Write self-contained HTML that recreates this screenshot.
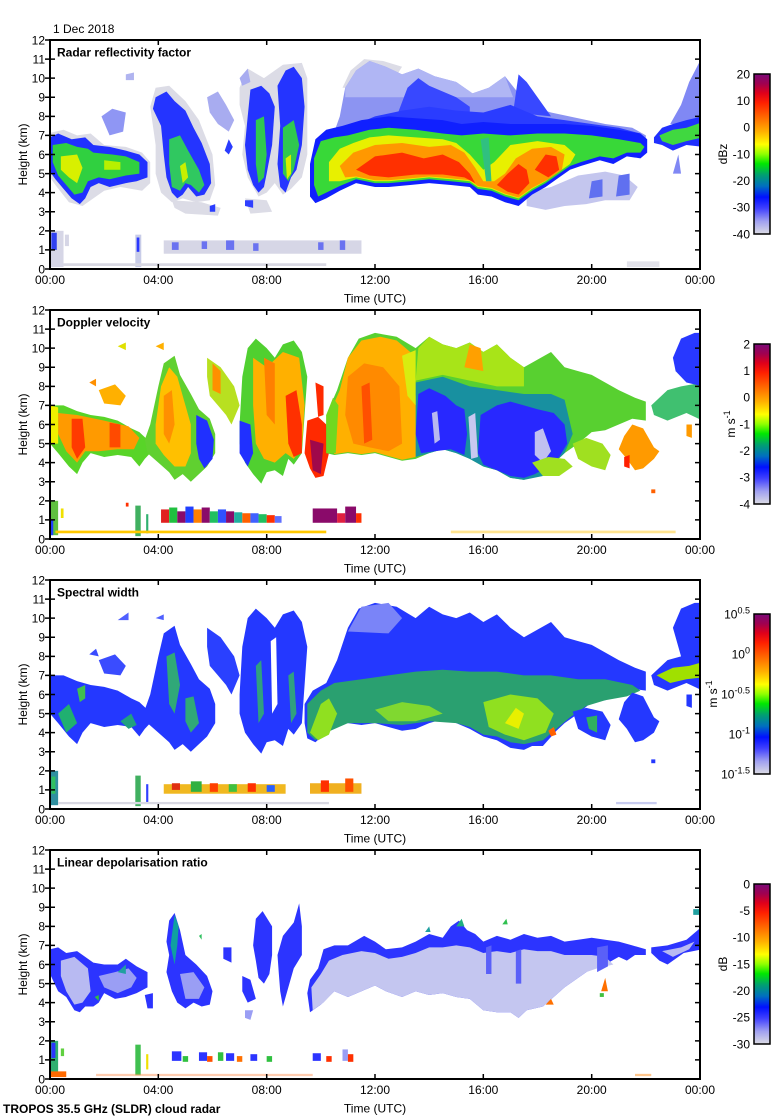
<!DOCTYPE html>
<html><head><meta charset="utf-8"><style>html,body{margin:0;padding:0;background:#fff}svg{display:block}</style></head>
<body>
<svg width="780" height="1120" viewBox="0 0 780 1120" xmlns="http://www.w3.org/2000/svg" font-family="'Liberation Sans', Arial, sans-serif" font-size="12">
<defs>
<clipPath id="c" clipPathUnits="userSpaceOnUse"><rect x="0" y="0" width="24" height="12"/></clipPath>
<linearGradient id="cm" x1="0" y1="0" x2="0" y2="1">
<stop offset="0" stop-color="#7a0a78"/><stop offset="0.06" stop-color="#a00050"/><stop offset="0.12" stop-color="#e0001a"/><stop offset="0.18" stop-color="#ff2000"/><stop offset="0.28" stop-color="#ff7000"/><stop offset="0.36" stop-color="#ffb000"/><stop offset="0.44" stop-color="#ffff00"/><stop offset="0.50" stop-color="#90ff00"/><stop offset="0.56" stop-color="#00e800"/><stop offset="0.63" stop-color="#00a070"/><stop offset="0.70" stop-color="#0070c0"/><stop offset="0.77" stop-color="#0010ff"/><stop offset="0.84" stop-color="#4040ff"/><stop offset="0.92" stop-color="#a0a0f0"/><stop offset="1" stop-color="#dcdce4"/>
</linearGradient>
<g id="axes">
<rect x="50" y="0" width="650" height="229" fill="none" stroke="#000" stroke-width="2"/>
<path stroke="#000" stroke-width="1.5" fill="none" d="M45 209.92H55M45 190.83H55M45 171.75H55M45 152.67H55M45 133.58H55M45 114.5H55M45 95.42H55M45 76.33H55M45 57.25H55M45 38.17H55M45 19.08H55M45 0H50M45 229H50
M695 209.92H700M695 190.83H700M695 171.75H700M695 152.67H700M695 133.58H700M695 114.5H700M695 95.42H700M695 76.33H700M695 57.25H700M695 38.17H700M695 19.08H700
M158.3 0V5M266.7 0V5M375 0V5M483.3 0V5M591.7 0V5M158.3 229V224M266.7 229V224M375 229V224M483.3 229V224M591.7 229V224"/>
<g text-anchor="end">
<text x="45" y="233.3">0</text><text x="45" y="214.2">1</text><text x="45" y="195.1">2</text><text x="45" y="176">3</text><text x="45" y="157">4</text><text x="45" y="137.9">5</text><text x="45" y="118.8">6</text><text x="45" y="99.7">7</text><text x="45" y="80.6">8</text><text x="45" y="61.5">9</text><text x="45" y="42.5">10</text><text x="45" y="23.4">11</text><text x="45" y="4.3">12</text>
</g>
<g text-anchor="middle">
<text x="50" y="244">00:00</text><text x="158.3" y="244">04:00</text><text x="266.7" y="244">08:00</text><text x="375" y="244">12:00</text><text x="483.3" y="244">16:00</text><text x="591.7" y="244">20:00</text><text x="700" y="244">00:00</text>
<text x="375" y="262.5">Time (UTC)</text>
<text transform="translate(27,114.5) rotate(-90)">Height (km)</text>
</g>
<rect x="754" y="34" width="16" height="160" fill="url(#cm)" stroke="#000" stroke-width="1.5"/>
</g>
</defs>

<text x="53" y="33">1 Dec 2018</text>

<!-- ================= PANEL 1 ================= -->
<g transform="translate(0,40)">
<g transform="translate(50 229) scale(27.0833 -19.0833)"><g clip-path="url(#c)">
<polygon fill="#dcdce6" points="3.7,8.5 3.9,9.5 4.4,9.6 5.0,8.8 5.5,7.8 6.0,6.0 6.1,4.4 5.9,3.6 5.4,3.5 4.9,3.7 4.5,3.5 4.1,4.0 3.9,5.0 3.9,6.5"/>
<polygon fill="#dcdce6" points="4.5,3.6 5.6,3.5 6.3,3.2 6.2,2.8 5.0,2.9 4.6,3.2"/>
<polygon fill="#dcdce6" points="7.0,9.5 7.3,10.5 7.9,10.0 8.6,10.7 9.3,10.8 9.5,10.0 9.5,8.0 9.5,6.0 9.3,4.8 8.9,4.2 8.6,3.9 8.3,4.5 8.0,4.0 7.7,3.8 7.3,4.8 7.1,6.0 7.2,7.5 7.0,8.6"/>
<polygon fill="#dcdce6" points="7.2,3.7 8.0,3.6 8.2,3.0 7.4,2.9"/>
<polygon fill="#dcdce6" points="-0.1,7.1 0.5,7.3 1.0,7.0 1.5,7.1 2.0,6.5 2.8,6.4 3.4,6.1 3.7,5.6 3.7,4.5 3.4,4.1 2.6,4.3 2.0,4.1 1.6,3.7 1.2,3.3 0.7,3.5 0.2,4.4 -0.1,5"/>
<polygon fill="#dcdce6" points="10.8,9.5 11.1,10.4 11.6,11.0 12.3,10.9 13.0,10.6 12.5,9.5"/>
<polygon fill="#8f96f4" points="1.9,8.0 2.3,8.4 2.8,8.2 2.7,7.2 2.2,7.0"/>
<polygon fill="#b0b4f0" points="2.8,10.2 3.1,10.3 3.1,9.9 2.8,9.9"/>
<polygon fill="#a8acf0" points="5.8,9.0 6.2,9.3 6.5,8.6 6.8,7.8 6.6,7.2 6.2,7.6 5.9,8.2"/>
<polygon fill="#a8acf0" points="7.0,10.0 7.3,10.5 7.4,9.8 7.1,9.6"/>
<!-- cloud A -->
<polygon fill="#2030ff" points="0,6.9 0.3,7.1 0.8,6.8 1.3,6.9 1.6,6.5 2.2,6.4 2.8,6.2 3.3,6.0 3.6,5.6 3.6,4.8 3.2,4.6 2.8,4.5 2.2,4.3 1.8,4.5 1.5,4.3 1.3,3.7 1.1,3.4 0.8,3.7 0.5,4.2 0.2,4.7 0,5.1"/>
<polygon fill="#30d040" points="0.1,6.5 0.6,6.6 1.0,6.4 1.4,6.3 1.6,6.1 2.3,6.0 2.8,5.9 3.3,5.6 3.3,5.0 2.8,4.9 2.2,4.7 1.8,4.8 1.4,4.6 1.2,4.0 0.9,3.9 0.6,4.4 0.3,4.9 0.1,5.6"/>
<polygon fill="#d8f000" points="0.4,5.9 1.0,6.0 1.2,5.3 1.0,4.5 0.7,4.8 0.4,5.2"/>
<polygon fill="#b8f000" points="2.0,5.7 2.6,5.6 2.6,5.2 2.0,5.2"/>
<!-- cloud B -->
<polygon fill="#2434ff" points="3.9,9.0 4.3,9.3 4.6,8.8 5.0,8.3 5.3,7.4 5.6,6.6 5.9,5.5 5.95,4.5 5.7,3.9 5.4,3.8 5.1,4.3 4.9,3.9 4.7,3.7 4.5,4.0 4.3,4.8 4.2,6.0 4.1,7.5 3.8,8.4"/>
<polygon fill="#30c860" points="4.4,6.8 4.8,7.0 5.1,6.2 5.5,5.2 5.7,4.4 5.5,4.0 5.2,4.4 5.0,4.5 4.8,4.1 4.5,4.3 4.4,5.5"/>
<polygon fill="#c8f000" points="4.8,5.4 5.0,5.6 5.1,4.8 4.9,4.5"/>
<polygon fill="#2a3cff" points="6.45,6.2 6.6,6.8 6.75,6.4 6.6,6.0"/>
<polygon fill="#2a3cff" points="5.9,3.3 6.1,3.4 6.1,3.0 5.9,3.0"/>
<!-- cloud C -->
<polygon fill="#2434ff" points="7.4,9.4 7.8,9.6 8.1,9.2 8.3,8.5 8.2,6.5 8.0,5.0 7.9,4.3 7.7,4.0 7.5,4.4 7.3,5.2 7.2,6.5 7.3,8.0"/>
<polygon fill="#2434ff" points="8.4,9.6 8.7,10.4 9.0,10.6 9.3,10.0 9.4,8.5 9.3,6.5 9.1,5.2 8.9,4.8 8.7,4.0 8.5,4.3 8.4,5.5 8.5,7.5"/>
<polygon fill="#30c850" points="7.6,7.8 7.9,8.0 8.0,6.0 7.9,4.8 7.7,4.5 7.6,5.5"/>
<polygon fill="#30c850" points="8.6,7.4 9.0,7.8 9.2,6.5 9.0,5.2 8.8,4.6 8.6,5.0 8.6,6.0"/>
<polygon fill="#d8f000" points="8.7,5.8 8.9,6.0 8.9,5.0 8.75,4.7"/>
<polygon fill="#3040ff" points="7.2,3.6 7.5,3.6 7.5,3.2 7.2,3.3"/>
<!-- big cloud -->
<polygon fill="#8c94f2" points="10.4,6.8 10.7,8.0 10.9,9.5 11.3,10.4 11.8,10.9 12.4,10.6 13.0,10.2 13.6,10.5 14.2,10.1 15.0,9.8 15.6,9.2 16.2,9.5 16.8,10.1 17.3,9.2 17.8,8.5 18.5,8.2 19.5,7.9 20.5,7.6 21.5,7.4 22.0,7.0 22.0,6.5 10.4,6.5"/>
<polygon fill="#b0b6f4" points="10.9,9.0 10.9,9.5 11.3,10.4 11.8,10.9 12.4,10.6 13.0,10.2 13.6,10.5 14.2,10.1 15.0,9.8 15.6,9.2 16.2,9.5 16.8,10.1 17.1,9.0"/>
<polygon fill="#3848ff" points="12.8,8.0 13.2,9.5 13.6,10.0 14.0,9.6 14.5,9.3 15.0,9.0 15.5,8.5 15.5,7.8"/>
<polygon fill="#3848ff" points="17.1,8.2 17.3,10.2 17.6,9.8 18.2,8.6 18.5,8.0"/>
<polygon fill="#2a3cff" points="11.0,7.4 12.0,8.0 13.0,8.3 14.0,8.5 15.0,8.3 16.0,8.2 17.0,8.6 18.0,8.0 19.0,7.8 20.0,7.6 21.0,7.4 21.8,7.1 21.8,6.8 11.0,6.8"/>
<polygon fill="#c4c6ee" points="17.6,4.0 18.5,4.3 19.5,4.9 20.5,5.1 21.2,4.9 21.7,4.3 21.4,3.6 20.5,3.6 19.8,3.4 19.0,3.3 18.3,3.1 17.6,3.3"/>
<polygon fill="#6070f0" points="19.9,3.7 20.4,3.8 20.4,4.7 20.0,4.6"/>
<polygon fill="#6070f0" points="20.9,3.8 21.4,3.9 21.4,5.0 21.0,4.9"/>
<polygon fill="#1020ff" points="9.6,5.5 9.8,6.8 10.2,7.3 10.8,7.5 11.5,7.8 12.5,8.0 13.5,7.9 14.5,7.8 15.2,7.6 16.0,7.7 17.0,7.6 18.0,7.6 19.0,7.6 20.0,7.5 21.0,7.3 21.8,7.1 22.05,6.8 22.05,6.1 21.8,5.8 21.3,5.9 20.8,5.5 20.3,5.7 19.6,5.4 19.2,5.2 18.8,4.8 18.3,4.3 17.8,3.9 17.3,3.3 16.8,3.5 16.3,3.8 15.8,3.9 15.5,4.3 14.8,4.4 14.0,4.5 13.3,4.4 12.5,4.3 12.0,4.3 11.3,4.5 10.7,4.1 10.2,3.7 9.8,3.45 9.6,3.8"/>
<polygon fill="#38d838" points="9.75,5.8 10.0,6.7 10.5,6.9 11.0,7.0 11.8,7.3 12.5,7.4 13.5,7.3 14.5,7.1 15.2,7.0 16.0,7.1 17.0,7.0 18.0,7.1 19.0,7.1 20.0,7.0 21.0,6.8 21.8,6.6 21.95,6.4 21.8,6.1 21.3,6.1 20.8,5.8 20.3,5.9 19.6,5.6 19.2,5.4 18.8,5.0 18.3,4.5 17.8,4.1 17.3,3.6 16.8,3.8 16.3,4.1 15.8,4.2 15.5,4.5 14.8,4.6 14.0,4.7 13.3,4.6 12.5,4.5 12.0,4.5 11.3,4.7 10.7,4.35 10.2,4.0 9.9,3.8 9.75,4.4"/>
<polygon fill="#e8f000" points="10.3,5.6 10.7,6.3 11.2,6.6 11.8,6.9 12.5,7.0 13.5,6.9 14.5,6.8 15.0,6.6 15.5,6.0 16.0,5.2 16.4,5.6 17.0,6.5 18.0,6.7 19.0,6.5 19.4,6.0 19.2,5.5 18.8,5.1 18.3,4.6 17.8,4.2 17.3,3.7 16.8,3.9 16.3,4.2 15.8,4.3 15.5,4.6 14.8,4.7 14.0,4.8 13.3,4.7 12.5,4.6 12.0,4.6 11.3,4.8 10.7,4.6 10.3,4.6"/>
<polygon fill="#ff9800" points="10.7,5.4 11.2,6.1 12.0,6.5 13.0,6.6 14.0,6.4 14.8,6.5 15.3,6.1 15.7,5.3 16.0,4.6 16.4,4.6 16.8,5.0 17.2,5.8 17.8,6.3 18.5,6.4 19.0,6.0 18.9,5.2 18.4,4.7 17.8,4.25 17.3,3.75 16.8,3.95 16.3,4.25 15.8,4.35 15.5,4.65 14.8,4.75 14.0,4.85 13.3,4.75 12.5,4.65 12.0,4.65 11.3,4.85 10.9,4.8"/>
<polygon fill="#ff3000" points="11.3,5.2 12.0,5.9 13.0,6.1 13.8,5.8 14.5,6.0 15.1,5.6 15.5,5.0 15.7,4.5 15.3,4.8 14.5,4.95 13.5,4.95 12.5,4.8 11.8,4.9"/>
<polygon fill="#ff3000" points="16.5,4.4 16.9,5.0 17.3,5.5 17.6,5.2 17.7,4.5 17.3,3.9 16.9,4.05"/>
<polygon fill="#ff3000" points="17.9,5.2 18.3,6.0 18.7,5.9 18.8,5.2 18.4,4.8"/>
<polygon fill="#30c080" points="15.9,6.8 16.2,6.9 16.3,4.6 16.1,4.6"/>
<!-- right -->
<polygon fill="#8088f4" points="22.9,7.6 23.3,8.6 23.6,9.8 24,10.9 24.1,10.9 24.1,7.6"/>
<polygon fill="#2030ff" points="22.3,6.9 22.6,7.4 23.0,7.6 23.5,7.8 24.1,8.0 24.1,6.4 23.5,6.5 23.0,6.2 22.6,6.5 22.3,6.6"/>
<polygon fill="#40d840" points="22.5,7.0 23.0,7.3 23.5,7.4 24.1,7.7 24.1,6.9 23.5,6.7 23.0,6.5 22.6,6.7"/>
<polygon fill="#8088f4" points="23.0,5.0 23.2,6.0 23.3,5.0"/>
<!-- low layer -->
<rect x="4.2" y="0.8" width="7.3" height="0.7" fill="#d6d6e6"/>
<rect x="4.5" y="1.0" width="0.25" height="0.4" fill="#6a72f0"/><rect x="5.6" y="1.05" width="0.2" height="0.4" fill="#6a72f0"/><rect x="6.5" y="1.0" width="0.3" height="0.5" fill="#6a72f0"/><rect x="7.5" y="0.95" width="0.2" height="0.4" fill="#6a72f0"/><rect x="9.9" y="1.0" width="0.2" height="0.4" fill="#6a72f0"/><rect x="10.7" y="1.0" width="0.2" height="0.5" fill="#6a72f0"/>
<rect x="0" y="0.1" width="0.5" height="1.9" fill="#d6d6e6"/>
<rect x="0.05" y="1.0" width="0.2" height="0.9" fill="#3040f0"/>
<rect x="0.55" y="1.2" width="0.15" height="0.6" fill="#d6d6e6"/>
<rect x="3.15" y="0.1" width="0.22" height="1.7" fill="#c8cce8"/>
<rect x="3.2" y="0.9" width="0.1" height="0.75" fill="#2a38ff"/>
<rect x="0.5" y="0.16" width="9.7" height="0.14" fill="#d8d8e2"/>
<rect x="21.3" y="0.1" width="1.2" height="0.3" fill="#e2e2ea"/>
</g></g>
<use href="#axes"/>
<text x="57" y="16.5" font-weight="bold">Radar reflectivity factor</text>
<g text-anchor="end"><text x="750" y="38.3">20</text><text x="750" y="65">10</text><text x="750" y="91.6">0</text><text x="750" y="118.3">-10</text><text x="750" y="145">-20</text><text x="750" y="171.6">-30</text><text x="750" y="198.3">-40</text></g>
<text transform="translate(727,114) rotate(-90)" text-anchor="middle">dBz</text>
</g>

<!-- ================= PANEL 2 ================= -->
<g transform="translate(0,310)">
<g transform="translate(50 229) scale(27.0833 -19.0833)"><g clip-path="url(#c)">
<polygon fill="#58d428" points="0,7.0 0.5,7.0 1.0,6.7 1.5,6.5 2.0,6.4 2.5,6.2 3.0,5.8 3.3,5.6 3.6,5.2 3.7,4.5 3.5,4.2 3.3,3.8 3.0,4.3 2.5,4.4 2.0,4.3 1.5,4.5 1.2,4.0 1.0,3.4 0.7,3.8 0.3,4.5 0,5.0"/>
<polygon fill="#ff9a00" points="0.3,6.6 1.0,6.5 2.0,6.2 2.9,5.9 3.3,5.3 3.1,4.7 2.5,4.7 1.8,4.6 1.3,4.6 1.0,4.0 0.6,4.6 0.3,5.5"/>
<polygon fill="#ff3a00" points="0.8,6.3 1.2,6.3 1.3,4.8 1.0,4.2 0.8,4.8"/>
<polygon fill="#ff4a00" points="2.2,6.1 2.6,6.0 2.6,4.8 2.2,4.8"/>
<polygon fill="#f0f000" points="0,7.0 0.3,6.9 0.3,5.0 0,5.0"/>
<polygon fill="#ffb000" points="1.8,7.8 2.4,8.1 2.8,7.5 2.6,7.0 2.0,7.1"/>
<polygon fill="#ff9000" points="1.45,8.2 1.7,8.4 1.7,8.0"/>
<polygon fill="#e0e000" points="2.5,10.1 2.8,10.3 2.8,9.9"/>
<polygon fill="#ffb000" points="3.9,10.1 4.2,10.3 4.2,9.9"/>
<polygon fill="#60d030" points="3.7,6.0 4.0,8.0 4.2,9.2 4.6,9.6 4.8,8.6 5.2,7.6 5.5,6.8 5.9,6.3 6.1,5.5 6.1,4.5 5.8,3.8 5.5,3.4 5.2,3.0 4.9,3.4 4.6,3.1 4.4,3.5 4.0,4.0 3.6,4.5 3.5,5.2"/>
<polygon fill="#ffc000" points="3.9,6.0 4.1,8.0 4.4,9.0 4.7,8.5 5.0,7.0 5.2,6.0 5.2,4.5 5.0,3.8 4.6,3.8 4.2,4.4 3.9,5.0"/>
<polygon fill="#ff9000" points="4.2,7.5 4.5,7.8 4.6,6.0 4.4,5.0 4.2,5.5"/>
<polygon fill="#2030ff" points="5.4,6.5 5.8,6.2 6.05,5.2 6.0,4.2 5.7,3.7 5.5,4.2 5.4,5.0"/>
<polygon fill="#b8e020" points="5.8,9.5 6.3,9.0 6.8,8.0 7.0,7.0 6.7,6.0 6.5,6.5 6.2,7.0 5.9,7.5 5.8,8.5"/>
<polygon fill="#ff9000" points="6.0,9.2 6.3,8.8 6.3,7.6 6.0,7.8"/>
<polygon fill="#50d030" points="7.0,6.0 7.1,8.5 7.3,10.0 7.6,10.5 8.0,10.0 8.3,9.5 8.6,10.2 9.0,10.4 9.3,9.8 9.5,8.5 9.4,6.5 9.3,4.5 9.0,3.9 8.8,4.2 8.6,3.3 8.3,3.6 8.0,3.5 7.8,2.9 7.5,3.4 7.2,4.0 7.0,5.0"/>
<polygon fill="#2030ff" points="7.0,6.2 7.4,6.0 7.5,4.5 7.3,3.8 7.0,4.5"/>
<polygon fill="#ffb000" points="7.5,9.5 8.0,9.0 8.6,9.8 9.2,9.5 9.4,7.0 9.3,4.8 9.0,4.2 8.7,4.5 8.3,4.0 7.9,4.2 7.6,5.0 7.5,7.0"/>
<polygon fill="#ff3000" points="8.7,7.5 9.1,7.8 9.3,6.0 9.3,4.5 9.0,4.3 8.8,5.0"/>
<polygon fill="#ff8000" points="7.9,9.5 8.3,9.2 8.3,6.0 8.0,6.5"/>
<polygon fill="#ff2a00" points="9.5,6.2 9.9,6.4 10.2,6.0 10.3,4.5 10.1,3.3 9.8,3.2 9.6,3.7 9.4,4.5"/>
<polygon fill="#a0084a" points="9.6,5.2 10.1,5.0 10.0,3.4 9.7,3.6"/>
<polygon fill="#ff2a00" points="9.8,8.2 10.1,8.0 10.1,6.5 9.9,6.4"/>
<polygon fill="#58d030" points="10.2,6.5 10.6,7.8 11.0,9.5 11.4,10.5 12.0,10.8 12.8,10.6 13.5,10.0 14.0,10.6 14.5,10.2 15.0,10.0 15.5,10.3 16.0,9.8 16.5,10.2 17.0,9.5 17.5,9.0 18.0,9.4 18.5,9.8 19.0,9.0 19.5,8.8 20.0,8.6 20.5,8.2 21.0,7.8 21.6,7.4 22.0,7.2 22.0,6.2 21.5,6.3 21.0,6.0 20.5,5.7 20.0,5.6 19.5,5.0 19.0,4.5 18.7,4.1 18.2,3.3 17.8,3.3 17.5,3.1 17.0,3.2 16.5,3.6 16.0,3.8 15.5,4.2 15.0,4.5 14.5,4.7 14.0,4.5 13.5,4.2 13.0,4.1 12.5,4.3 12.0,4.5 11.5,4.4 11.0,4.5 10.5,4.4 10.2,4.5"/>
<polygon fill="#a8e418" points="13.5,8.3 13.6,10.0 14.0,10.6 14.5,10.2 15.0,10.0 15.5,10.3 16.0,9.8 16.5,10.2 17.0,9.5 17.5,9.0 17.5,8.0 16.5,8.0 15.5,8.3 14.5,8.6"/>
<polygon fill="#ffa000" points="15.3,9.0 15.5,10.2 15.9,10.0 16.0,8.8"/>
<polygon fill="#1890a0" points="13.5,8.2 14.5,8.5 15.5,8.0 16.5,7.8 17.5,7.6 18.5,7.6 19.0,7.3 19.3,5.5 19.0,4.5 18.7,4.1 18.2,3.3 17.5,3.1 17.0,3.2 16.5,3.6 16.0,3.8 15.5,4.2 15.0,4.5 14.5,4.7 14.0,4.5 13.5,4.3"/>
<polygon fill="#2828ff" points="13.6,7.6 14.0,7.9 14.6,7.5 15.0,7.0 15.3,6.8 15.4,5.5 15.3,4.4 14.8,4.7 14.2,4.6 13.7,4.5 13.5,5.5"/>
<polygon fill="#2828ff" points="15.9,6.5 16.5,7.0 17.0,7.2 17.5,7.0 18.0,6.8 18.6,6.6 19.0,6.0 19.1,5.0 18.8,4.3 18.4,3.8 17.9,3.4 17.5,3.2 17.0,3.3 16.5,3.6 16.0,3.9 15.8,4.5 15.85,5.5"/>
<polygon fill="#b8b8f0" points="14.1,6.6 14.3,6.7 14.4,5.2 14.2,5.0"/>
<polygon fill="#c8c8f0" points="15.45,6.4 15.7,6.6 15.8,4.3 15.55,4.2"/>
<polygon fill="#c0c0f0" points="17.9,5.6 18.2,5.8 18.5,4.6 18.2,4.0 17.9,4.4"/>
<polygon fill="#a0e020" points="17.8,4.0 18.4,4.3 19.0,4.2 19.3,3.8 18.8,3.3 18.2,3.3"/>
<polygon fill="#ffb000" points="10.3,6.5 10.7,7.8 11.0,9.5 11.5,10.4 12.2,10.6 12.8,10.4 13.3,9.8 13.5,7.5 13.5,4.3 13.0,4.15 12.5,4.35 12.0,4.55 11.5,4.45 11.0,4.55 10.5,4.45 10.3,5.0"/>
<polygon fill="#70d820" points="10.2,4.5 10.55,4.5 10.65,7.0 10.45,7.4 10.2,6.5"/>
<polygon fill="#ff8a00" points="11.0,8.5 11.6,9.2 12.3,9.0 12.9,8.0 13.0,5.0 12.5,4.6 11.8,4.8 11.2,5.0 10.9,6.5"/>
<polygon fill="#ff5000" points="11.5,8.0 11.8,8.2 11.9,5.2 11.6,5.0"/>
<polygon fill="#d8ec10" points="13.0,9.6 13.5,9.9 13.5,7.0 13.2,7.5"/>
<polygon fill="#a0e020" points="19.3,5.0 19.8,5.3 20.4,5.0 20.7,4.4 20.5,3.6 20.0,3.8 19.5,4.2"/>
<polygon fill="#ff9a00" points="21.2,5.4 21.5,6.0 21.9,5.8 22.3,4.8 22.5,4.6 22.3,4.2 21.9,3.7 21.6,3.6 21.3,4.2 21.0,4.7"/>
<polygon fill="#ff2000" points="21.2,4.3 21.4,4.4 21.4,3.7 21.2,3.8"/>
<polygon fill="#40c070" points="22.2,7.0 22.8,7.8 23.3,8.0 24.1,8.2 24.1,6.2 23.5,6.6 22.8,6.2 22.3,6.5"/>
<polygon fill="#2838ff" points="23.0,9.5 23.3,10.5 23.8,10.8 24.1,10.8 24.1,8.0 23.5,8.2 23.1,8.8"/>
<polygon fill="#ff9a00" points="23.5,6.0 23.7,6.0 23.7,5.3 23.5,5.4"/>
<polygon fill="#ff6000" points="22.2,2.6 22.35,2.6 22.35,2.4 22.2,2.4"/>
<rect x="4.1" y="0.85" width="0.3" height="0.7" fill="#e02020"/><rect x="4.4" y="0.85" width="0.3" height="0.8" fill="#20c040"/><rect x="4.7" y="0.85" width="0.3" height="0.6" fill="#8a0a6a"/><rect x="5.0" y="0.85" width="0.3" height="0.85" fill="#2040ff"/><rect x="5.3" y="0.85" width="0.3" height="0.7" fill="#ff8000"/><rect x="5.6" y="0.85" width="0.3" height="0.8" fill="#8a0a6a"/><rect x="5.9" y="0.85" width="0.3" height="0.6" fill="#20c060"/><rect x="6.2" y="0.85" width="0.3" height="0.7" fill="#3050ff"/><rect x="6.5" y="0.85" width="0.3" height="0.6" fill="#8a0a6a"/><rect x="6.8" y="0.85" width="0.3" height="0.55" fill="#20b0a0"/><rect x="7.1" y="0.85" width="0.3" height="0.5" fill="#ff6000"/><rect x="7.4" y="0.85" width="0.3" height="0.5" fill="#4060ff"/><rect x="7.7" y="0.85" width="0.3" height="0.45" fill="#20c060"/><rect x="8.0" y="0.85" width="0.3" height="0.4" fill="#ff3000"/><rect x="8.3" y="0.85" width="0.25" height="0.35" fill="#6070ff"/>
<rect x="9.7" y="0.85" width="0.9" height="0.75" fill="#8a0a6a"/><rect x="10.6" y="0.85" width="0.3" height="0.5" fill="#e02040"/><rect x="10.9" y="0.85" width="0.4" height="0.85" fill="#8a0a6a"/><rect x="11.3" y="0.85" width="0.2" height="0.5" fill="#ff3000"/>
<rect x="0" y="0.2" width="0.3" height="1.8" fill="#60c040"/><rect x="0" y="0.2" width="0.12" height="0.8" fill="#2040ff"/><rect x="0.4" y="1.1" width="0.1" height="0.5" fill="#f0e000"/>
<rect x="3.15" y="0.15" width="0.2" height="1.6" fill="#40b060"/><rect x="3.55" y="0.3" width="0.08" height="1.0" fill="#30b070"/>
<rect x="2.8" y="1.7" width="0.1" height="0.2" fill="#ff3000"/>
<rect x="0.2" y="0.3" width="10.0" height="0.14" fill="#ffc800"/>
<rect x="14.8" y="0.3" width="8.3" height="0.14" fill="#ffd860" opacity="0.7"/>
</g></g>
<use href="#axes"/>
<text x="57" y="16.5" font-weight="bold">Doppler velocity</text>
<g text-anchor="end"><text x="750" y="38.3">2</text><text x="750" y="65">1</text><text x="750" y="91.6">0</text><text x="750" y="118.3">-1</text><text x="750" y="145">-2</text><text x="750" y="171.6">-3</text><text x="750" y="198.3">-4</text></g>
<text transform="translate(735,114) rotate(-90)" text-anchor="middle">m s<tspan font-size="9" dy="-5">-1</tspan></text>
</g>

<!-- ================= PANEL 3 ================= -->
<g transform="translate(0,580)">
<g transform="translate(50 229) scale(27.0833 -19.0833)"><g clip-path="url(#c)">
<polygon fill="#2438ff" points="0,7.0 0.5,7.0 1.0,6.7 1.5,6.5 2.0,6.4 2.5,6.2 3.0,5.8 3.3,5.6 3.6,5.2 3.7,4.5 3.5,4.2 3.3,3.8 3.0,4.3 2.5,4.4 2.0,4.3 1.5,4.5 1.2,4.0 1.0,3.4 0.7,3.8 0.3,4.5 0,5.0"/>
<polygon fill="#20b070" points="0.3,5.0 0.7,5.5 1.0,4.5 0.6,4.0"/>
<polygon fill="#40c050" points="1.0,6.3 1.3,6.5 1.3,5.8 1.1,5.6"/>
<polygon fill="#20a080" points="2.6,4.6 3.0,5.0 3.2,4.4 2.9,4.2"/>
<polygon fill="#3a4cff" points="1.8,7.8 2.4,8.1 2.8,7.5 2.6,7.0 2.0,7.1"/>
<polygon fill="#3a4cff" points="1.45,8.1 1.7,8.4 1.8,8.0"/>
<polygon fill="#5060ff" points="2.5,9.9 2.9,10.3 2.9,9.9"/>
<polygon fill="#5060ff" points="3.9,10.0 4.2,10.2 4.2,9.9"/>
<polygon fill="#2438ff" points="3.7,6.0 4.0,8.0 4.2,9.2 4.6,9.6 4.8,8.6 5.2,7.6 5.5,6.8 5.9,6.3 6.1,5.5 6.1,4.5 5.8,3.8 5.5,3.4 5.2,3.0 4.9,3.4 4.6,3.1 4.4,3.5 4.0,4.0 3.6,4.5 3.5,5.2"/>
<polygon fill="#30a878" points="4.3,8.0 4.6,8.2 4.8,6.5 4.6,5.0 4.4,5.5"/>
<polygon fill="#30a878" points="5.0,5.8 5.3,5.9 5.5,4.5 5.2,4.0 5.0,4.6"/>
<polygon fill="#2a40ff" points="5.8,9.5 6.3,9.0 6.8,8.0 7.0,7.0 6.7,6.0 6.5,6.5 6.2,7.0 5.9,7.5 5.8,8.5"/>
<polygon fill="#2438ff" points="7.0,6.0 7.1,8.5 7.3,10.0 7.6,10.5 8.0,10.0 8.3,9.5 8.6,10.2 9.0,10.4 9.3,9.8 9.5,8.5 9.4,6.5 9.3,4.5 9.0,3.9 8.8,4.2 8.6,3.3 8.3,3.6 8.0,3.5 7.8,2.9 7.5,3.4 7.2,4.0 7.0,5.0"/>
<polygon fill="#fff" points="8.15,8.8 8.35,9.0 8.4,5.5 8.2,5.0"/>
<polygon fill="#30a080" points="7.6,7.5 7.8,7.8 7.9,5.0 7.7,4.5"/>
<polygon fill="#30a080" points="8.8,7.0 9.0,7.2 9.1,5.0 8.9,4.5"/>
<polygon fill="#2438ff" points="9.4,4.5 9.4,5.5 9.7,6.2 10.2,6.6 10.6,7.8 11.0,9.5 11.4,10.5 12.0,10.8 12.8,10.6 13.5,10.0 14.0,10.6 14.5,10.2 15.0,10.0 15.5,10.3 16.0,9.8 16.5,10.2 17.0,9.5 17.5,9.0 18.0,9.4 18.5,9.8 19.0,9.0 19.5,8.8 20.0,8.6 20.5,8.2 21.0,7.8 21.6,7.4 22.0,7.2 22.0,6.2 21.5,6.3 21.0,6.0 20.5,5.7 20.0,5.6 19.5,5.0 19.0,4.5 18.7,4.1 18.2,3.3 17.8,3.3 17.5,3.1 17.0,3.2 16.5,3.6 16.0,3.8 15.5,4.2 15.0,4.5 14.5,4.7 14.0,4.5 13.5,4.2 13.0,4.1 12.5,4.3 12.0,4.5 11.5,4.4 11.0,4.5 10.5,4.4 10.2,4.0 9.8,3.5 9.5,3.7"/>
<polygon fill="#7a84f8" points="11.0,9.3 11.5,10.6 12.5,10.8 13.0,10.0 12.5,9.2"/>
<polygon fill="#2aa070" points="9.5,5.5 10.0,6.2 10.5,6.6 11.5,6.8 12.5,7.0 13.5,7.2 14.5,7.3 15.5,7.2 16.5,7.2 17.5,7.0 18.5,7.0 19.5,6.8 20.5,6.8 21.5,6.5 21.8,6.2 21.3,5.9 20.5,5.7 19.8,5.4 19.2,4.8 18.7,4.2 18.2,3.6 17.5,3.4 17.0,3.5 16.5,3.8 16.0,3.9 15.5,4.3 15.0,4.5 14.0,4.6 13.0,4.4 12.0,4.5 11.0,4.5 10.2,4.0 9.8,3.6 9.5,4.0"/>
<polygon fill="#90e020" points="9.6,4.0 10.0,5.5 10.3,5.8 10.6,5.0 10.3,3.9 9.9,3.6"/>
<polygon fill="#80d830" points="12.0,5.2 13.0,5.6 14.0,5.4 14.5,5.0 13.5,4.6 12.5,4.6"/>
<polygon fill="#90e020" points="16.0,5.6 17.0,6.0 18.0,5.8 18.6,5.0 18.3,4.0 17.5,3.6 16.8,3.9 16.2,4.3"/>
<polygon fill="#e8f000" points="16.8,4.5 17.2,5.3 17.5,5.0 17.3,4.2"/>
<polygon fill="#ff6000" points="18.4,4.1 18.6,4.3 18.7,3.9 18.5,3.8"/>
<polygon fill="#2438ff" points="19.3,5.1 19.8,5.3 20.4,5.1 20.7,4.4 20.5,3.6 20.0,3.8 19.5,4.2"/>
<polygon fill="#2438ff" points="21.2,5.6 21.5,6.1 21.9,5.9 22.3,4.8 22.5,4.6 22.3,4.0 21.9,3.6 21.6,3.5 21.3,4.2 21.0,4.7"/>
<polygon fill="#30b060" points="19.8,4.8 20.2,4.9 20.2,4.0 19.9,4.2"/>
<polygon fill="#2438ff" points="22.2,7.0 22.8,7.8 23.3,8.0 23.0,9.5 23.3,10.5 23.8,10.8 24.1,10.8 24.1,6.2 23.5,6.6 22.8,6.2 22.3,6.5"/>
<polygon fill="#a0e000" points="22.4,7.0 23.0,7.4 23.6,7.5 24.1,7.7 24.1,6.9 23.5,6.8 22.9,6.6"/>
<polygon fill="#2438ff" points="23.5,6.0 23.7,6.0 23.7,5.3 23.5,5.4"/>
<polygon fill="#2438ff" points="22.2,2.6 22.35,2.6 22.35,2.4 22.2,2.4"/>
<rect x="4.2" y="0.8" width="4.5" height="0.5" fill="#f0b820"/>
<rect x="4.5" y="1.0" width="0.3" height="0.35" fill="#e03010"/><rect x="5.2" y="0.9" width="0.4" height="0.55" fill="#30b040"/><rect x="5.9" y="0.9" width="0.3" height="0.45" fill="#ff4000"/><rect x="6.6" y="0.9" width="0.3" height="0.4" fill="#40c040"/><rect x="7.3" y="0.9" width="0.3" height="0.45" fill="#ff3000"/><rect x="8.0" y="0.9" width="0.3" height="0.35" fill="#2a60ff"/>
<rect x="9.6" y="0.8" width="1.9" height="0.55" fill="#f0b020"/><rect x="10.0" y="0.9" width="0.3" height="0.6" fill="#ff3000"/><rect x="10.9" y="0.9" width="0.3" height="0.7" fill="#ff5000"/>
<rect x="0" y="0.2" width="0.3" height="1.8" fill="#3090a0"/><rect x="0.05" y="0.8" width="0.15" height="0.9" fill="#30c060"/>
<rect x="3.15" y="0.15" width="0.2" height="1.6" fill="#40b060"/><rect x="3.55" y="0.3" width="0.08" height="1.0" fill="#3040ff"/>
<rect x="0.3" y="0.25" width="10.0" height="0.12" fill="#d8d8e2"/>
<rect x="20.9" y="0.25" width="1.5" height="0.12" fill="#c8ccf0"/>
</g></g>
<use href="#axes"/>
<text x="57" y="16.5" font-weight="bold">Spectral width</text>
<g text-anchor="end"><text x="750" y="38.3">10<tspan font-size="9" dy="-5">0.5</tspan></text><text x="750" y="78.3">10<tspan font-size="9" dy="-5">0</tspan></text><text x="750" y="118.3">10<tspan font-size="9" dy="-5">-0.5</tspan></text><text x="750" y="158.3">10<tspan font-size="9" dy="-5">-1</tspan></text><text x="750" y="198.3">10<tspan font-size="9" dy="-5">-1.5</tspan></text></g>
<text transform="translate(717,114) rotate(-90)" text-anchor="middle">m s<tspan font-size="9" dy="-5">-1</tspan></text>
</g>

<!-- ================= PANEL 4 ================= -->
<g transform="translate(0,850)">
<g transform="translate(50 229) scale(27.0833 -19.0833)"><g clip-path="url(#c)">
<polygon fill="#2c34ff" points="0,6.8 0.3,6.9 0.6,6.6 1.0,6.7 1.3,6.4 1.6,6.1 2.0,6.0 2.5,6.0 2.8,6.3 3.2,5.9 3.6,5.6 3.6,4.8 3.2,4.5 2.8,4.3 2.4,4.2 2.0,4.5 1.8,4.0 1.6,3.8 1.3,3.8 1.1,3.5 0.9,3.6 0.6,4.3 0.3,4.6 0,5.5"/>
<polygon fill="#b8baf2" points="0.4,6.2 0.9,6.4 1.4,5.8 1.5,4.6 1.2,4.0 0.9,3.9 0.6,4.6 0.4,5.4"/>
<polygon fill="#9a9ef4" points="1.8,5.4 2.4,5.6 2.9,5.8 3.2,5.3 3.0,4.8 2.5,4.5 2.0,4.8"/>
<polygon fill="#20a0a0" points="2.5,5.6 2.8,6.0 2.8,5.5"/>
<polygon fill="#30c040" points="1.65,4.3 1.8,4.4 1.8,4.1"/>
<polygon fill="#2c34ff" points="4.3,7.2 4.4,8.3 4.6,8.7 4.8,7.8 5.0,6.5 5.4,6.0 5.8,5.4 6.0,4.6 5.9,3.9 5.6,3.8 5.3,4.0 5.0,3.7 4.7,4.0 4.5,4.6 4.3,5.6 4.4,6.5"/>
<polygon fill="#10a0a0" points="4.45,7.0 4.6,8.6 4.75,8.0 4.7,7.0 4.6,6.0"/>
<polygon fill="#9a9ef4" points="4.8,5.5 5.3,5.6 5.7,4.8 5.5,4.2 5.0,4.2"/>
<polygon fill="#2c34ff" points="3.5,4.4 3.8,4.5 3.8,3.7 3.6,3.7"/>
<polygon fill="#30c060" points="5.5,7.5 5.6,7.6 5.6,7.3"/>
<polygon fill="#2c34ff" points="7.5,7.0 7.6,8.4 7.85,8.8 8.2,8.0 8.2,6.5 8.1,5.5 7.9,5.0 7.7,5.3 7.6,6.2"/>
<polygon fill="#2c34ff" points="8.4,6.5 8.6,7.5 9.0,8.2 9.2,9.2 9.3,8.0 9.3,6.5 9.0,5.8 8.8,4.8 8.6,3.8 8.5,4.6 8.45,5.5"/>
<polygon fill="#2c34ff" points="7.1,5.4 7.4,5.2 7.6,4.2 7.3,4.0 7.1,4.6"/>
<polygon fill="#9a9ef4" points="7.2,3.6 7.5,3.6 7.4,3.1 7.2,3.2"/>
<polygon fill="#2c34ff" points="6.4,6.9 6.7,6.9 6.7,6.1 6.4,6.3"/>
<polygon fill="#2c34ff" points="9.6,5.2 9.9,5.8 10.1,6.8 10.5,7.0 11.0,7.0 11.6,7.5 12.0,7.2 12.4,6.8 13.0,6.9 13.5,7.2 14.0,7.6 14.5,7.4 14.8,8.0 15.1,8.3 15.4,7.8 15.7,7.6 16.0,7.2 16.5,7.5 17.0,7.3 17.5,7.6 18.0,7.4 18.5,7.5 19.0,7.2 19.5,7.3 20.0,7.4 20.5,7.3 21.0,7.2 21.5,7.0 22.0,6.8 22.0,6.5 21.6,6.5 21.3,6.2 21.0,6.4 20.5,6.0 20.0,5.8 19.5,5.3 19.0,4.8 18.6,4.3 18.2,3.8 17.6,3.6 17.3,3.2 17.0,3.5 16.5,3.5 16.0,3.6 15.5,4.2 15.0,4.3 14.5,4.5 14.0,4.4 13.5,4.6 13.0,4.3 12.4,4.6 12.0,4.9 11.5,4.6 11.0,4.3 10.5,4.6 10.0,3.9 9.6,3.5 9.5,4.5"/>
<polygon fill="#c4c6f0" points="9.65,4.8 10.0,5.5 10.3,6.2 10.8,6.5 11.5,6.7 12.0,6.6 12.5,6.3 13.0,6.4 13.5,6.6 14.0,6.9 14.5,6.9 15.0,7.0 15.5,6.9 16.0,6.6 16.5,6.7 17.0,6.6 17.5,6.8 18.0,6.7 18.5,6.7 19.0,6.5 19.5,6.5 20.0,6.5 20.5,6.4 20.8,6.0 20.2,5.8 19.8,5.6 19.5,5.3 19.0,4.8 18.6,4.3 18.2,3.8 17.6,3.6 17.3,3.2 17.0,3.5 16.5,3.5 16.0,3.6 15.5,4.2 15.0,4.3 14.5,4.5 14.0,4.4 13.5,4.6 13.0,4.3 12.4,4.6 12.0,4.9 11.5,4.6 11.0,4.3 10.5,4.6 10.1,4.0 9.7,3.6"/>
<polygon fill="#5a60f8" points="16.1,5.5 16.3,5.5 16.3,7.0 16.1,6.9"/>
<polygon fill="#5a60f8" points="17.2,5.0 17.4,5.0 17.4,6.8 17.2,6.7"/>
<polygon fill="#5a60f8" points="20.2,5.6 20.6,5.9 20.6,7.0 20.2,6.9"/>
<polygon fill="#ff7000" points="18.3,3.9 18.5,4.2 18.6,3.9"/>
<polygon fill="#20b080" points="15.0,8.0 15.2,8.4 15.3,8.0"/>
<polygon fill="#20a0a0" points="13.85,7.7 14.0,8.0 14.05,7.7"/>
<polygon fill="#30c050" points="16.7,8.1 16.85,8.4 16.9,8.1"/>
<polygon fill="#ff7000" points="20.35,4.6 20.5,5.3 20.6,4.6"/>
<polygon fill="#40c040" points="20.3,4.5 20.45,4.5 20.45,4.3 20.3,4.3"/>
<polygon fill="#2c34ff" points="22.2,6.9 22.8,7.0 23.5,7.3 24,7.9 24.1,7.9 24.1,6.8 23.4,6.6 22.8,6.0 22.5,6.2 22.2,6.6"/>
<polygon fill="#b8baf2" points="22.6,6.7 23.3,6.9 23.8,7.2 23.6,6.8 23.0,6.4"/>
<rect x="23.75" y="8.6" width="0.3" height="0.3" fill="#20a0a0"/>
<rect x="4.5" y="0.95" width="0.35" height="0.5" fill="#2c34ff"/><rect x="4.9" y="0.9" width="0.2" height="0.3" fill="#30c040"/><rect x="5.5" y="0.95" width="0.3" height="0.45" fill="#2c34ff"/><rect x="5.8" y="0.9" width="0.2" height="0.3" fill="#ff5000"/><rect x="6.2" y="0.95" width="0.2" height="0.45" fill="#30c040"/><rect x="6.5" y="0.95" width="0.3" height="0.4" fill="#2c34ff"/><rect x="6.9" y="0.9" width="0.2" height="0.3" fill="#ff7000"/><rect x="7.4" y="0.95" width="0.25" height="0.35" fill="#2c34ff"/><rect x="8.0" y="0.9" width="0.2" height="0.3" fill="#30c040"/>
<rect x="9.7" y="0.95" width="0.3" height="0.4" fill="#2c34ff"/><rect x="10.2" y="0.9" width="0.2" height="0.3" fill="#ff3000"/><rect x="10.8" y="0.95" width="0.2" height="0.6" fill="#9a9ef4"/><rect x="11.0" y="0.9" width="0.2" height="0.4" fill="#ff3000"/>
<rect x="0" y="0.3" width="0.3" height="1.7" fill="#30b070"/><rect x="0.05" y="1.1" width="0.15" height="0.8" fill="#2c34ff"/><rect x="0.4" y="1.2" width="0.12" height="0.4" fill="#60d040"/>
<rect x="3.15" y="0.2" width="0.2" height="1.6" fill="#40c050"/><rect x="3.55" y="0.5" width="0.08" height="0.8" fill="#f0e000"/>
<rect x="0" y="0.1" width="0.6" height="0.3" fill="#ff6a00"/>
<rect x="1.7" y="0.15" width="8.0" height="0.12" fill="#ff9a60" opacity="0.5"/>
<rect x="21.6" y="0.15" width="0.6" height="0.12" fill="#ffa040" opacity="0.6"/>
</g></g>
<use href="#axes"/>
<text x="57" y="16.5" font-weight="bold">Linear depolarisation ratio</text>
<g text-anchor="end"><text x="750" y="38.3">0</text><text x="750" y="65">-5</text><text x="750" y="91.6">-10</text><text x="750" y="118.3">-15</text><text x="750" y="145">-20</text><text x="750" y="171.6">-25</text><text x="750" y="198.3">-30</text></g>
<text transform="translate(727,114) rotate(-90)" text-anchor="middle">dB</text>
</g>

<text x="3" y="1113" font-weight="bold">TROPOS 35.5 GHz (SLDR) cloud radar</text>
</svg>
</body></html>
